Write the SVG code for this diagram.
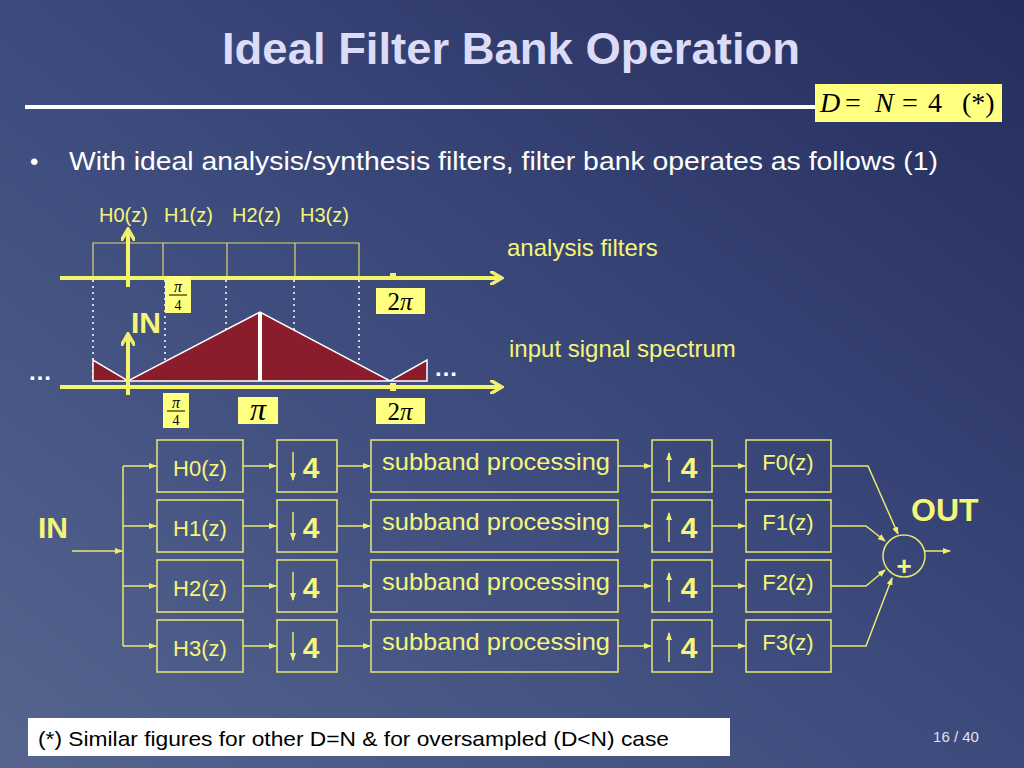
<svg xmlns="http://www.w3.org/2000/svg" width="1024" height="768" viewBox="0 0 1024 768">
<defs>
<linearGradient id="bg" x1="0" y1="1" x2="1" y2="0"><stop offset="0" stop-color="#56648f"/><stop offset="0.5" stop-color="#3c4a7c"/><stop offset="1" stop-color="#252d5c"/></linearGradient>
<marker id="a" markerWidth="8" markerHeight="6" refX="7" refY="3" orient="auto" markerUnits="userSpaceOnUse"><path d="M0,0 L8,3 L0,6 z" fill="#f0f070"/></marker>
<marker id="big" markerWidth="14" markerHeight="14" refX="11" refY="7" orient="auto" markerUnits="userSpaceOnUse"><path d="M0,0 L12,7 L0,14" fill="none" stroke="#f0f070" stroke-width="3.5"/></marker>
</defs>
<style>
.y{fill:#f5f57a;font-family:"Liberation Sans",Arial,sans-serif}
.b{fill:none;stroke:#e8e870;stroke-width:1.5}
.c{fill:none;stroke:#e8e870;stroke-width:1.5;marker-end:url(#a)}
.ax{stroke:#f5f56a;stroke-width:4;fill:none}
.lb{fill:#ffff80}
.m{font-family:"Liberation Serif",serif;fill:#000}
</style>
<rect width="1024" height="768" fill="url(#bg)"/>
<text x="511" y="64" text-anchor="middle" font-family="Liberation Sans,Arial,sans-serif" font-weight="bold" font-size="44" fill="#dcdcf8" textLength="578" lengthAdjust="spacingAndGlyphs">Ideal Filter Bank Operation</text>
<line x1="25" y1="107" x2="815" y2="107" stroke="#ffffff" stroke-width="4"/>
<rect x="815" y="84" width="187" height="38" class="lb"/>
<text y="112" class="m" font-size="28"><tspan x="820" font-style="italic">D</tspan><tspan x="845">=</tspan><tspan x="875" font-style="italic">N</tspan><tspan x="902">=</tspan><tspan x="928">4</tspan><tspan x="962">(*)</tspan></text>
<text x="30" y="170" font-family="Liberation Sans,Arial,sans-serif" font-size="24" fill="#ffffff">•</text>
<text x="69" y="170" font-family="Liberation Sans,Arial,sans-serif" font-size="25" fill="#ffffff" textLength="869" lengthAdjust="spacingAndGlyphs">With ideal analysis/synthesis filters, filter bank operates as follows (1)</text>
<text y="222" class="y" font-size="20"><tspan x="99">H0(z)</tspan><tspan x="164">H1(z)</tspan><tspan x="232">H2(z)</tspan><tspan x="300">H3(z)</tspan></text>
<text x="507" y="256" class="y" font-size="24">analysis filters</text>
<text x="509" y="357" class="y" font-size="24">input signal spectrum</text>
<g id="spectrum">
<path d="M93,278 V243 H359 V278 M163,243 V278 M227,243 V278 M295,243 V278" fill="none" stroke="#d8d870" stroke-width="1.2"/>
<path d="M93,280 V380 M165,280 V380 M226,280 V380 M294,280 V380 M359,280 V380" stroke="#ffffff" stroke-width="1.5" stroke-dasharray="2,4"/>
<polygon points="93,381 93,360 128,381 260,312 390,381 427,360 427,381" fill="#8a1c2c" stroke="#ffffff" stroke-width="1.5"/>
<line x1="260" y1="312" x2="260" y2="381" stroke="#ffffff" stroke-width="4"/>
<line x1="60" y1="278" x2="501" y2="278" class="ax" marker-end="url(#big)"/>
<line x1="128" y1="287" x2="128" y2="230" class="ax" marker-end="url(#big)"/>
<line x1="60" y1="387" x2="501" y2="387" class="ax" marker-end="url(#big)"/>
<line x1="128" y1="395" x2="128" y2="335" class="ax" marker-end="url(#big)"/>
<rect x="390" y="273" width="6" height="6" fill="#f5f56a"/>
<rect x="390" y="383" width="6" height="8" fill="#f5f56a"/>
<text x="28" y="380" fill="#fff" font-family="Liberation Sans,sans-serif" font-weight="bold" font-size="24">…</text>
<text x="434" y="376" fill="#fff" font-family="Liberation Sans,sans-serif" font-weight="bold" font-size="24">…</text>
<text x="131" y="333" class="y" font-weight="bold" font-size="30">IN</text>
<rect x="165" y="276" width="26" height="37" class="lb"/><text x="178" y="292" class="m" font-size="16" font-style="italic" text-anchor="middle">π</text><line x1="169" y1="295" x2="187" y2="295" stroke="#000"/><text x="178" y="310" class="m" font-size="14" text-anchor="middle">4</text>
<rect x="163" y="393" width="26" height="35" class="lb"/><text x="176" y="408" class="m" font-size="16" font-style="italic" text-anchor="middle">π</text><line x1="167" y1="411" x2="185" y2="411" stroke="#000"/><text x="176" y="425" class="m" font-size="14" text-anchor="middle">4</text>
<rect x="238" y="397" width="40" height="27" class="lb"/><text x="258" y="420" class="m" font-size="32" font-style="italic" text-anchor="middle">π</text>
<rect x="376" y="288" width="49" height="26" class="lb"/><text x="400" y="310" class="m" font-size="25" text-anchor="middle">2<tspan font-style="italic">π</tspan></text>
<rect x="376" y="398" width="49" height="26" class="lb"/><text x="400" y="420" class="m" font-size="25" text-anchor="middle">2<tspan font-style="italic">π</tspan></text>
</g>
<text x="38" y="538" class="y" font-weight="bold" font-size="30">IN</text>
<text x="911" y="521" class="y" font-weight="bold" font-size="32">OUT</text>
<g id="connectors">
<line x1="72" y1="551" x2="122" y2="551" class="c"/>
<line x1="123" y1="466" x2="123" y2="646" class="b"/>
<line x1="123" y1="466" x2="156" y2="466" class="c"/><line x1="123" y1="526" x2="156" y2="526" class="c"/><line x1="123" y1="586" x2="156" y2="586" class="c"/><line x1="123" y1="646" x2="156" y2="646" class="c"/>
<line x1="243" y1="466" x2="276" y2="466" class="c"/><line x1="243" y1="526" x2="276" y2="526" class="c"/><line x1="243" y1="586" x2="276" y2="586" class="c"/><line x1="243" y1="646" x2="276" y2="646" class="c"/>
<line x1="337" y1="466" x2="370" y2="466" class="c"/><line x1="337" y1="526" x2="370" y2="526" class="c"/><line x1="337" y1="586" x2="370" y2="586" class="c"/><line x1="337" y1="646" x2="370" y2="646" class="c"/>
<line x1="618" y1="466" x2="651" y2="466" class="c"/><line x1="618" y1="526" x2="651" y2="526" class="c"/><line x1="618" y1="586" x2="651" y2="586" class="c"/><line x1="618" y1="646" x2="651" y2="646" class="c"/>
<line x1="712" y1="466" x2="745" y2="466" class="c"/><line x1="712" y1="526" x2="745" y2="526" class="c"/><line x1="712" y1="586" x2="745" y2="586" class="c"/><line x1="712" y1="646" x2="745" y2="646" class="c"/>
<path d="M831,466 H868 L898,534" class="c"/>
<path d="M831,526 H866 L885,541" class="c"/>
<path d="M831,586 H866 L885,570" class="c"/>
<path d="M831,646 H866 L892,578" class="c"/>
<line x1="925" y1="551" x2="950" y2="551" class="c"/>
</g>
<g id="sum"><circle cx="904" cy="556" r="21" class="b"/><text x="904" y="575" class="y" font-weight="bold" font-size="26" text-anchor="middle">+</text></g>
<g id="H0"><rect x="157" y="440" width="86" height="52" class="b"/><text x="200" y="476" class="y" font-size="22" text-anchor="middle">H0(z)</text></g>
<g id="H1"><rect x="157" y="500" width="86" height="52" class="b"/><text x="200" y="536" class="y" font-size="22" text-anchor="middle">H1(z)</text></g>
<g id="H2"><rect x="157" y="560" width="86" height="52" class="b"/><text x="200" y="596" class="y" font-size="22" text-anchor="middle">H2(z)</text></g>
<g id="H3"><rect x="157" y="620" width="86" height="52" class="b"/><text x="200" y="656" class="y" font-size="22" text-anchor="middle">H3(z)</text></g>
<g id="D0"><rect x="277" y="440" width="60" height="52" class="b"/><line x1="293" y1="452" x2="293" y2="480" class="c"/><text x="311" y="478" class="y" font-weight="bold" font-size="30" text-anchor="middle">4</text></g>
<g id="D1"><rect x="277" y="500" width="60" height="52" class="b"/><line x1="293" y1="512" x2="293" y2="540" class="c"/><text x="311" y="538" class="y" font-weight="bold" font-size="30" text-anchor="middle">4</text></g>
<g id="D2"><rect x="277" y="560" width="60" height="52" class="b"/><line x1="293" y1="572" x2="293" y2="600" class="c"/><text x="311" y="598" class="y" font-weight="bold" font-size="30" text-anchor="middle">4</text></g>
<g id="D3"><rect x="277" y="620" width="60" height="52" class="b"/><line x1="293" y1="632" x2="293" y2="660" class="c"/><text x="311" y="658" class="y" font-weight="bold" font-size="30" text-anchor="middle">4</text></g>
<g id="S0"><rect x="371" y="440" width="247" height="52" class="b"/><text x="496" y="470" class="y" font-size="24" text-anchor="middle" textLength="228" lengthAdjust="spacingAndGlyphs">subband processing</text></g>
<g id="S1"><rect x="371" y="500" width="247" height="52" class="b"/><text x="496" y="530" class="y" font-size="24" text-anchor="middle" textLength="228" lengthAdjust="spacingAndGlyphs">subband processing</text></g>
<g id="S2"><rect x="371" y="560" width="247" height="52" class="b"/><text x="496" y="590" class="y" font-size="24" text-anchor="middle" textLength="228" lengthAdjust="spacingAndGlyphs">subband processing</text></g>
<g id="S3"><rect x="371" y="620" width="247" height="52" class="b"/><text x="496" y="650" class="y" font-size="24" text-anchor="middle" textLength="228" lengthAdjust="spacingAndGlyphs">subband processing</text></g>
<g id="U0"><rect x="652" y="440" width="60" height="52" class="b"/><line x1="669" y1="482" x2="669" y2="453" class="c"/><text x="689" y="478" class="y" font-weight="bold" font-size="30" text-anchor="middle">4</text></g>
<g id="U1"><rect x="652" y="500" width="60" height="52" class="b"/><line x1="669" y1="542" x2="669" y2="513" class="c"/><text x="689" y="538" class="y" font-weight="bold" font-size="30" text-anchor="middle">4</text></g>
<g id="U2"><rect x="652" y="560" width="60" height="52" class="b"/><line x1="669" y1="602" x2="669" y2="573" class="c"/><text x="689" y="598" class="y" font-weight="bold" font-size="30" text-anchor="middle">4</text></g>
<g id="U3"><rect x="652" y="620" width="60" height="52" class="b"/><line x1="669" y1="662" x2="669" y2="633" class="c"/><text x="689" y="658" class="y" font-weight="bold" font-size="30" text-anchor="middle">4</text></g>
<g id="F0"><rect x="746" y="440" width="85" height="52" class="b"/><text x="788" y="470" class="y" font-size="22" text-anchor="middle">F0(z)</text></g>
<g id="F1"><rect x="746" y="500" width="85" height="52" class="b"/><text x="788" y="530" class="y" font-size="22" text-anchor="middle">F1(z)</text></g>
<g id="F2"><rect x="746" y="560" width="85" height="52" class="b"/><text x="788" y="590" class="y" font-size="22" text-anchor="middle">F2(z)</text></g>
<g id="F3"><rect x="746" y="620" width="85" height="52" class="b"/><text x="788" y="650" class="y" font-size="22" text-anchor="middle">F3(z)</text></g>
<rect x="28" y="718" width="702" height="38" fill="#ffffff"/>
<text x="38" y="746" font-family="Liberation Sans,Arial,sans-serif" font-size="21" fill="#000" textLength="631" lengthAdjust="spacingAndGlyphs">(*) Similar figures for other D=N &amp; for oversampled (D&lt;N) case</text>
<text x="956" y="742" font-family="Liberation Sans,Arial,sans-serif" font-size="15" fill="#e0e0f0" text-anchor="middle">16 / 40</text>
</svg>
